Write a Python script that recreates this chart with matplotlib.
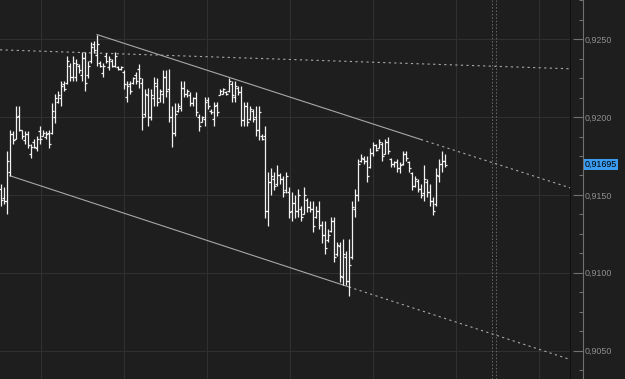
import numpy as np
import matplotlib
matplotlib.use("Agg")
import matplotlib.pyplot as plt
from matplotlib.collections import LineCollection
from matplotlib.ticker import FixedLocator, FuncFormatter

# ---Data (prices in pips, /10000 below)---
high = [9157, 9155, 9178, 9192, 9191, 9207, 9207, 9192, 9191, 9191,
        9183, 9186, 9188, 9194, 9192, 9191, 9192, 9209, 9215, 9217,
        9223, 9223, 9239, 9235, 9239, 9237, 9234, 9242, 9242, 9236,
        9248, 9249, 9253, 9236, 9235, 9241, 9239, 9237, 9242, 9233,
        9233, 9230, 9223, 9223, 9226, 9229, 9234, 9225, 9218, 9219,
        9218, 9226, 9225, 9218, 9230, 9230, 9231, 9207, 9209, 9209,
        9223, 9223, 9218, 9216, 9213, 9216, 9202, 9201, 9213, 9213,
        9205, 9210, 9210, 9218, 9219, 9217, 9225, 9223, 9223, 9220,
        9220, 9210, 9210, 9207, 9205, 9207, 9207, 9189, 9194, 9165,
        9167, 9165, 9169, 9164, 9162, 9165, 9155, 9152, 9150, 9154,
        9143, 9155, 9148, 9146, 9146, 9143, 9146, 9133, 9133, 9128,
        9136, 9136, 9120, 9120, 9122, 9114, 9122, 9146, 9154, 9173,
        9176, 9175, 9175, 9180, 9184, 9183, 9186, 9184, 9186, 9187,
        9174, 9172, 9173, 9171, 9178, 9178, 9172, 9165, 9162, 9160,
        9157, 9169, 9160, 9157, 9149, 9167, 9173, 9178, 9176]
low = [9143, 9144, 9138, 9162, 9183, 9186, 9191, 9186, 9183, 9180,
       9174, 9180, 9178, 9183, 9188, 9186, 9180, 9189, 9196, 9209,
       9207, 9217, 9221, 9223, 9223, 9223, 9228, 9223, 9217, 9225,
       9235, 9241, 9233, 9232, 9226, 9235, 9230, 9232, 9232, 9230,
       9230, 9218, 9210, 9215, 9221, 9221, 9219, 9192, 9200, 9194,
       9198, 9207, 9207, 9210, 9209, 9213, 9197, 9181, 9188, 9203,
       9204, 9213, 9213, 9207, 9207, 9201, 9191, 9197, 9194, 9205,
       9202, 9194, 9201, 9214, 9215, 9214, 9216, 9210, 9210, 9214,
       9194, 9194, 9194, 9198, 9197, 9188, 9185, 9185, 9135, 9130,
       9150, 9153, 9156, 9157, 9149, 9151, 9135, 9133, 9135, 9136,
       9133, 9138, 9139, 9139, 9126, 9135, 9128, 9119, 9112, 9120,
       9126, 9107, 9111, 9094, 9092, 9092, 9085, 9109, 9136, 9146,
       9171, 9170, 9158, 9167, 9175, 9178, 9180, 9172, 9176, 9176,
       9168, 9168, 9165, 9164, 9169, 9172, 9165, 9153, 9155, 9152,
       9148, 9146, 9149, 9143, 9137, 9143, 9158, 9165, 9168]
open_ = [9154, 9148, 9146, 9165, 9189, 9186, 9201, 9192, 9185, 9189,
         9176, 9184, 9180, 9191, 9188, 9187, 9190, 9190, 9200, 9210,
         9212, 9221, 9222, 9233, 9226, 9226, 9233, 9227, 9238, 9227,
         9236, 9247, 9240, 9235, 9228, 9239, 9232, 9236, 9233, 9232,
         9231, 9229, 9213, 9221, 9222, 9227, 9231, 9222, 9202, 9214,
         9200, 9212, 9220, 9212, 9215, 9226, 9218, 9200, 9190, 9204,
         9206, 9219, 9215, 9214, 9209, 9212, 9200, 9197, 9199, 9211,
         9204, 9199, 9208, 9214, 9215, 9216, 9217, 9221, 9213, 9219,
         9216, 9198, 9207, 9199, 9204, 9200, 9192, 9188, 9188, 9140,
         9158, 9160, 9157, 9163, 9160, 9153, 9152, 9140, 9145, 9140,
         9141, 9138, 9147, 9142, 9141, 9136, 9140, 9131, 9124, 9121,
         9127, 9133, 9112, 9117, 9097, 9110, 9095, 9110, 9141, 9150,
         9172, 9173, 9172, 9168, 9177, 9182, 9180, 9183, 9176, 9184,
         9173, 9170, 9171, 9167, 9170, 9176, 9171, 9164, 9156, 9159,
         9154, 9151, 9158, 9152, 9146, 9144, 9162, 9170, 9172]
close = [9147, 9146, 9172, 9189, 9185, 9200, 9192, 9188, 9189, 9182,
         9181, 9181, 9186, 9186, 9190, 9189, 9183, 9204, 9212, 9214,
         9220, 9218, 9236, 9226, 9235, 9234, 9230, 9238, 9222, 9233,
         9245, 9243, 9247, 9233, 9233, 9236, 9237, 9233, 9239, 9231,
         9232, 9221, 9220, 9217, 9225, 9223, 9225, 9200, 9215, 9200,
         9214, 9222, 9210, 9217, 9226, 9217, 9200, 9190, 9202, 9207,
         9219, 9215, 9217, 9209, 9212, 9203, 9194, 9200, 9210, 9207,
         9203, 9207, 9203, 9217, 9218, 9215, 9223, 9214, 9220, 9216,
         9198, 9207, 9197, 9205, 9199, 9192, 9203, 9186, 9140, 9158,
         9162, 9156, 9163, 9160, 9152, 9162, 9139, 9145, 9140, 9150,
         9136, 9150, 9142, 9141, 9130, 9140, 9131, 9124, 9116, 9124,
         9133, 9110, 9118, 9098, 9112, 9095, 9105, 9142, 9150, 9170,
         9174, 9172, 9162, 9177, 9182, 9179, 9184, 9175, 9184, 9178,
         9170, 9171, 9167, 9169, 9176, 9174, 9167, 9156, 9160, 9154,
         9150, 9160, 9152, 9146, 9140, 9163, 9170, 9172, 9169.5]

high = np.array(high) / 10000
low = np.array(low) / 10000
open_ = np.array(open_) / 10000
close = np.array(close) / 10000

# trend lines: (bar, price) anchors
upper_x = [32, 140]
upper_y = [0.92530, 0.91856]
lower_x = [3, 116]
lower_y = [0.91623, 0.90909]
flat_x = [-0.33, 190]
flat_y = [0.92432, 0.92310]
sep_x = [163.7, 165.0]  # double dotted separator
vgrid_x = [13.3, 41.0, 68.7, 96.3, 124.0, 151.7, 179.3]

bg = "#1e1e1e"
xmin, xmax = -1 / 3, 190
ymin, ymax = 0.90318, 0.92752

fig = plt.figure(figsize=(6.25, 3.79), dpi=100, facecolor=bg)
ax = fig.add_axes([0, 0, 571 / 625, 1])
ax.set_facecolor(bg)
ax.set_xlim(xmin, xmax)
ax.set_ylim(ymin, ymax)
for s in ax.spines.values():
    s.set_visible(False)
ax.set_xticks([])
ax.set_yticks([])

# ---Grid---
for g in np.arange(0.9050, 0.92501, 0.005):
    ax.axhline(g, color="#303030", lw=0.8, zorder=0)
for g in vgrid_x:
    ax.axvline(g, color="#303030", lw=0.8, zorder=0)
for g in sep_x:
    ax.axvline(g, color="#6a6a6a", lw=0.7, ls=(0, (1.5, 2)), zorder=1)

# ---OHLC bars---
idx = np.arange(len(high))
segs = []
for i in idx:
    segs.append([(i, low[i]), (i, high[i])])
    segs.append([(i - 0.67, open_[i]), (i, open_[i])])
    segs.append([(i, close[i]), (i + 0.67, close[i])])
ax.add_collection(LineCollection(segs, colors="#f2f2f2", linewidths=0.9, zorder=3))

# ---Trend lines---
def extend(xs, ys, x_end):
    slope = (ys[1] - ys[0]) / (xs[1] - xs[0])
    return ys[0] + slope * (x_end - xs[0])

lc = "#a8a8a8"
ax.plot(upper_x, upper_y, color=lc, lw=0.8, zorder=2)
ax.plot([upper_x[1], xmax], [upper_y[1], extend(upper_x, upper_y, xmax)],
        color=lc, lw=0.8, ls=(0, (2, 3)), zorder=2)
ax.plot(lower_x, lower_y, color=lc, lw=0.8, zorder=2)
ax.plot([lower_x[1], xmax], [lower_y[1], extend(lower_x, lower_y, xmax)],
        color=lc, lw=0.8, ls=(0, (2, 3)), zorder=2)
ax.plot(flat_x, flat_y, color=lc, lw=0.8, ls=(0, (2, 3)), zorder=2)

# boundary of the chart area
ax.axvline(xmax, color="#0c0c0c", lw=1.2, zorder=4)

# ---Price scale---
ax2 = fig.add_axes([571 / 625, 0, 12 / 625, 1])
ax2.set_facecolor(bg)
ax2.set_ylim(ymin, ymax)
ax2.set_xticks([])
for k in ["left", "top", "bottom"]:
    ax2.spines[k].set_visible(False)
ax2.spines["right"].set_color("#707070")
ax2.spines["right"].set_linewidth(0.8)
ax2.yaxis.tick_right()
ax2.yaxis.set_major_locator(FixedLocator(np.arange(0.9050, 0.92501, 0.005)))
ax2.yaxis.set_minor_locator(FixedLocator(np.arange(0.9025, 0.9276, 0.00125)))
ax2.yaxis.set_major_formatter(FuncFormatter(lambda v, p: f"{v:.4f}".replace(".", ",")))
ax2.tick_params(axis="y", which="major", direction="in", length=7.5, width=0.8,
                color="#707070", pad=1.5, labelsize=6.4, labelcolor="#8f8f8f")
ax2.tick_params(axis="y", which="minor", direction="in", length=3.2, width=0.8,
                color="#707070")
for t in ax2.get_yticklabels():
    t.set_family("Liberation Sans")

last = close[-1]
ax2.annotate(f"{last:.5f}".replace(".", ","), xy=(1, last), xycoords=("axes fraction", "data"),
             xytext=(1.2, 0), textcoords="offset points", ha="left", va="center",
             fontsize=6.4, family="Liberation Sans", color="black",
             bbox=dict(boxstyle="square,pad=0.12", fc="#3c9cf0", ec="none"))

plt.savefig("out.png", dpi=100, facecolor=bg)
